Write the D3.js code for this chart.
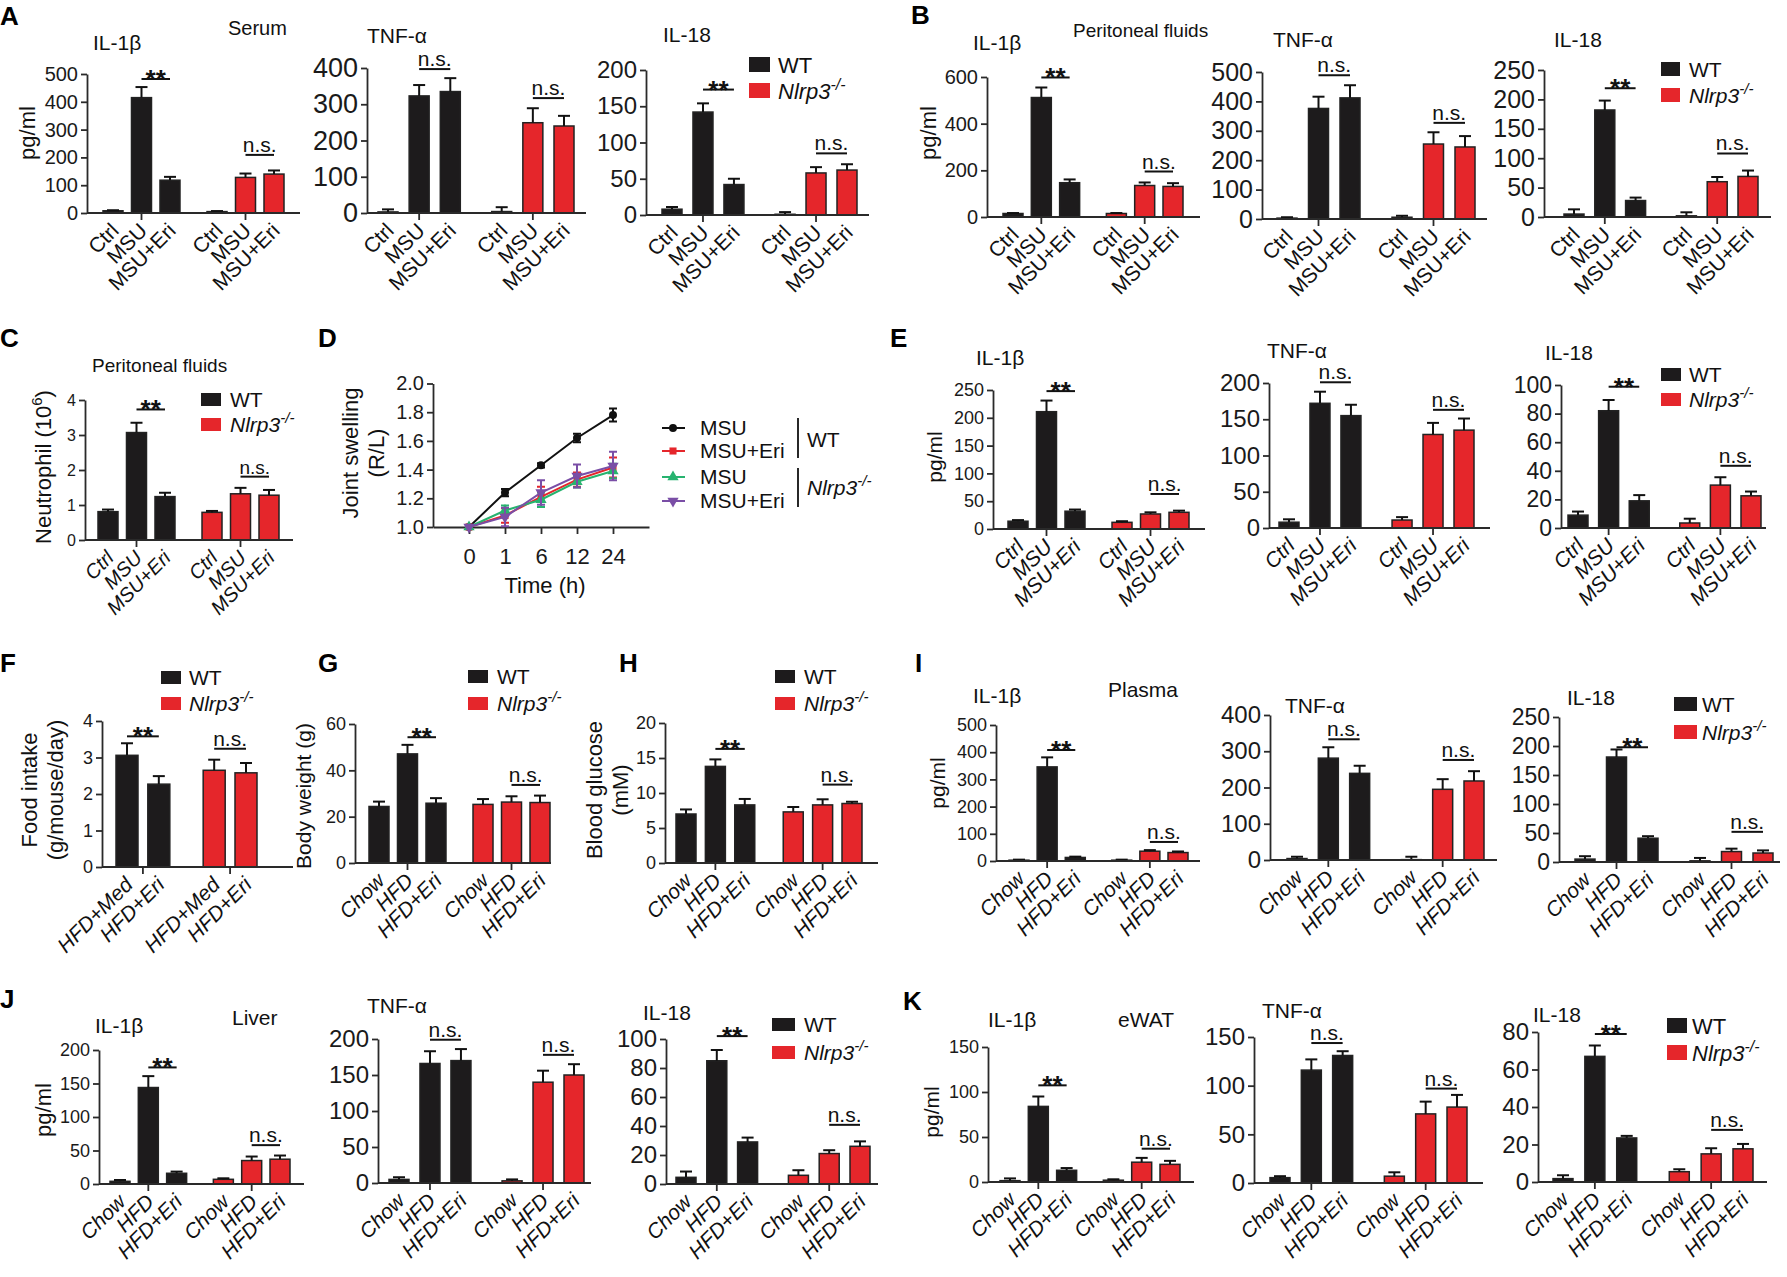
<!DOCTYPE html>
<html>
<head>
<meta charset="utf-8">
<script src="https://cdn.jsdelivr.net/npm/d3@7"></script>
<style>
  body { margin: 0; background: #fff; }
  svg { display: block; font-family: "Liberation Sans", Arial, Helvetica, sans-serif; }
</style>
</head>
<body>
<div id="chart"></div>
<script>
// categories
const msuGroups = ['Ctrl', 'MSU', 'MSU+Eri'];
const hfdGroups = ['Chow', 'HFD', 'HFD+Eri'];
const foodGroups = ['HFD+Med', 'HFD+Eri'];
const timePoints = ['0', '1', '6', '12', '24'];

// values: first half WT, second half Nlrp3-/-
const serumIL1b = [8, 415, 118, 5, 128, 140];
const serumIL1bErr = [2, 38, 12, 2, 14, 13];
const serumTNF = [3, 323, 335, 4, 249, 240];
const serumTNFErr = [7, 30, 37, 12, 40, 28];
const serumIL18 = [8, 142, 42, 1, 58, 62];
const serumIL18Err = [3, 12, 8, 3, 8, 8];

const peritIL1b = [15, 512, 147, 15, 135, 131];
const peritIL1bErr = [2, 43, 14, 2, 13, 14];
const peritTNF = [3, 376, 412, 6, 255, 245];
const peritTNFErr = [3, 40, 43, 5, 40, 37];
const peritIL18 = [5, 182, 28, 2, 60, 69];
const peritIL18Err = [8, 16, 5, 6, 8, 10];

const neutrophil = [0.81, 3.07, 1.24, 0.79, 1.32, 1.28];
const neutrophilErr = [0.06, 0.28, 0.11, 0.04, 0.17, 0.15];

const swellWtMsu = [1.0, 1.24, 1.43, 1.62, 1.78];
const swellWtMsuErr = [0, 0.025, 0.015, 0.03, 0.045];
const swellWtMsuEri = [1.0, 1.08, 1.21, 1.33, 1.415];
const swellWtMsuEriErr = [0, 0.05, 0.07, 0.05, 0.07];
const swellKoMsu = [1.0, 1.115, 1.19, 1.315, 1.39];
const swellKoMsuErr = [0, 0.035, 0.05, 0.04, 0.05];
const swellKoMsuEri = [1.0, 1.07, 1.24, 1.355, 1.425];
const swellKoMsuEriErr = [0, 0.065, 0.085, 0.08, 0.1];

const jointIL1b = [14, 211, 32, 12, 27, 30];
const jointIL1bErr = [2, 20, 3, 2, 3, 3];
const jointTNF = [8, 172, 155, 11, 129, 135];
const jointTNFErr = [4, 16, 15, 4, 16, 16];
const jointIL18 = [9, 82, 19, 3.5, 30, 22.5];
const jointIL18Err = [2.5, 7.5, 4, 3, 5.5, 3];

const foodIntake = [3.06, 2.27, 2.65, 2.58];
const foodIntakeErr = [0.33, 0.22, 0.29, 0.27];
const bodyWeight = [24.4, 47.1, 25.8, 25.3, 26.3, 26.1];
const bodyWeightErr = [2.1, 3.9, 2.2, 2.3, 2.5, 3];
const bloodGlucose = [7.0, 13.8, 8.3, 7.3, 8.3, 8.5];
const bloodGlucoseErr = [0.65, 1.0, 0.85, 0.7, 0.8, 0.25];

const plasmaIL1b = [3, 346, 13, 3, 36, 31];
const plasmaIL1bErr = [2, 35, 3, 2, 4, 4];
const plasmaTNF = [4, 281, 239, 1, 195, 218];
const plasmaTNFErr = [5, 30, 21, 8, 28, 27];
const plasmaIL18 = [5, 181, 41, 2, 18, 15.5];
const plasmaIL18Err = [5, 13, 3.5, 5, 5, 4.5];

const liverIL1b = [4, 144, 16, 7, 35, 37];
const liverIL1bErr = [2, 17, 2.5, 1.5, 6, 5.5];
const liverTNF = [5, 166, 170, 3, 140, 150];
const liverTNFErr = [3, 17, 16, 2, 16, 15];
const liverIL18 = [4.6, 85, 29, 6, 21, 26];
const liverIL18Err = [4, 7.4, 3, 3.5, 2.3, 3.4];

const ewatIL1b = [1.5, 84, 13, 2, 22, 19.6];
const ewatIL1bErr = [2.5, 11, 2.5, 1, 4.8, 3.9];
const ewatTNF = [5.5, 116, 131, 7, 71, 78];
const ewatTNFErr = [1.5, 11, 4.4, 4, 12.6, 12.5];
const ewatIL18 = [1.8, 67, 23.5, 5.5, 15, 17.7];
const ewatIL18Err = [1.8, 5.8, 1.1, 1.3, 3, 2.6];

const axisColor = '#2a2a2a';
const wtColor = '#1d1b1c';
const koColor = '#e5262b';

const svg = d3.select('#chart').append('svg')
  .attr('width', 1787)
  .attr('height', 1277);

function styleAxis(a, font) {
  a.attr('font-family', null).attr('font-size', font);
  a.select('.domain').attr('stroke', axisColor).attr('stroke-width', 1.8);
  a.selectAll('.tick line').attr('stroke', axisColor).attr('stroke-width', 1.8);
  a.selectAll('.tick text').attr('fill', '#1a1a1a');
}

// "Nlrp3-/-" with italic gene name and superscript
function nlrp3(t, size) {
  t.append('tspan').style('font-style', 'italic').text('Nlrp3');
  t.append('tspan').attr('dy', -size * 0.42).attr('font-size', size * 0.72)
    .style('font-style', 'italic').text('-/-');
}

function legend(g, l) {
  const size = l.size || 21;
  [wtColor, koColor].forEach((c, i) => {
    const top = i === 0 ? l.y1 : l.y2;
    g.append('rect').attr('x', l.x).attr('y', top).attr('width', l.w).attr('height', l.h).attr('fill', c);
    const t = g.append('text').attr('x', l.tx).attr('y', top + l.h + 1).attr('font-size', size).attr('fill', '#111');
    if (i === 0) t.text('WT'); else nlrp3(t, size);
  });
}

function barPanel(p) {
  const g = svg.append('g');
  const n = p.values.length, half = n / 2;
  const gs = p.gap || 1.65;
  const slot = i => (i < half ? i : i + gs - 1);
  const x = d3.scaleLinear().domain([0, slot(n - 1)]).range([p.c0, p.cLast]);
  const y = d3.scaleLinear().domain([0, p.max]).range([p.y0, p.yTop]);
  const bw = p.bw || 20;
  const rows = p.values.map((v, i) => ({ v, e: p.errs[i], cx: x(slot(i)), ko: i >= half, label: p.groups[i % half] }));

  // bars
  g.selectAll('.bar').data(rows).enter().append('rect')
    .attr('x', d => d.cx - bw / 2)
    .attr('y', d => y(d.v))
    .attr('width', bw)
    .attr('height', d => p.y0 - y(d.v))
    .attr('fill', d => d.ko ? koColor : wtColor)
    .attr('stroke', '#222')
    .attr('stroke-width', 1.5);

  // error bars (upper half)
  const eb = g.selectAll('.err').data(rows).enter().append('g').attr('stroke', '#111').attr('stroke-width', 2);
  eb.append('line').attr('x1', d => d.cx).attr('x2', d => d.cx).attr('y1', d => y(d.v)).attr('y2', d => y(d.v + d.e));
  eb.append('line').attr('x1', d => d.cx - 6).attr('x2', d => d.cx + 6).attr('y1', d => y(d.v + d.e)).attr('y2', d => y(d.v + d.e));

  // x axis line and group ticks
  g.append('line').attr('x1', p.left).attr('x2', p.xEnd).attr('y1', p.y0).attr('y2', p.y0)
    .attr('stroke', axisColor).attr('stroke-width', 1.8);
  const centers = [x((slot(0) + slot(half - 1)) / 2), x((slot(half) + slot(n - 1)) / 2)];
  g.selectAll('.gt').data(centers).enter().append('line')
    .attr('x1', d => d).attr('x2', d => d).attr('y1', p.y0).attr('y2', p.y0 + 7)
    .attr('stroke', axisColor).attr('stroke-width', 1.8);

  // y axis
  g.append('g')
    .attr('transform', `translate(${p.left},0)`)
    .call(d3.axisLeft(y)
      .tickValues(d3.range(0, p.max + p.step / 2, p.step))
      .tickFormat(d3.format('~g'))
      .tickSize(6).tickSizeOuter(0).tickPadding(3))
    .call(styleAxis, p.font);

  // rotated category labels
  g.selectAll('.xl').data(rows).enter().append('text')
    .attr('transform', d => `translate(${d.cx + 7},${p.y0 + 19}) rotate(-45)`)
    .attr('text-anchor', 'end')
    .attr('font-size', p.lf || 21)
    .style('font-style', p.italic ? 'italic' : null)
    .attr('fill', '#111')
    .text(d => d.label);

  // significance marks
  (p.sig || []).forEach(([i, j, level, label]) => {
    const x1 = rows[i].cx, x2 = rows[j].cx, yy = y(level);
    g.append('line').attr('x1', x1).attr('x2', x2).attr('y1', yy).attr('y2', yy).attr('stroke', '#111').attr('stroke-width', 2);
    const star = label === '**';
    g.append('text')
      .attr('x', (x1 + x2) / 2)
      .attr('y', star ? yy + 9 : yy - 3)
      .attr('text-anchor', 'middle')
      .attr('font-size', star ? 26 : (p.sf || 21))
      .attr('font-weight', star ? 'bold' : null)
      .attr('fill', '#111')
      .text(label);
  });

  (p.titles || []).forEach(([t, tx, ty, ts]) => {
    g.append('text').attr('x', tx).attr('y', ty).attr('font-size', ts || 21).attr('fill', '#111').text(t);
  });

  if (p.ylab) {
    p.ylab.lines.forEach(([t, lx]) => {
      g.append('text')
        .attr('transform', `translate(${lx},${p.ylab.y}) rotate(-90)`)
        .attr('text-anchor', 'middle')
        .attr('dy', '0.35em')
        .attr('font-size', p.ylab.size || 21)
        .attr('fill', '#111')
        .text(t);
    });
  }
  if (p.legend) legend(g, p.legend);
  return g;
}

const pgml = (lx, ly, size) => ({ lines: [['pg/ml', lx]], y: ly, size: size || 22 });

const panels = [
  // A: serum
  { values: serumIL1b, errs: serumIL1bErr, groups: msuGroups, left: 87, c0: 113, cLast: 274, xEnd: 300, y0: 213, yTop: 74, max: 500, step: 100, font: 20,
    sig: [[1, 2, 482, '**'], [4, 5, 209, 'n.s.']], titles: [['IL-1β', 93, 50], ['Serum', 228, 35, 20]], ylab: pgml(27, 133) },
  { values: serumTNF, errs: serumTNFErr, groups: msuGroups, left: 367, c0: 388, cLast: 564, xEnd: 586, y0: 213, yTop: 68, max: 400, step: 100, font: 27,
    sig: [[1, 2, 397, 'n.s.'], [4, 5, 317, 'n.s.']], titles: [['TNF-α', 367, 43]] },
  { values: serumIL18, errs: serumIL18Err, groups: msuGroups, left: 646, c0: 672, cLast: 847, xEnd: 869, y0: 215, yTop: 70, max: 200, step: 50, font: 24,
    sig: [[1, 2, 173, '**'], [4, 5, 85, 'n.s.']], titles: [['IL-18', 663, 42]],
    legend: { x: 749, y1: 57, y2: 83, w: 21, h: 15, tx: 778, size: 22 } },
  // B: peritoneal fluids
  { values: peritIL1b, errs: peritIL1bErr, groups: msuGroups, left: 987, c0: 1013, cLast: 1173, xEnd: 1200, y0: 217, yTop: 77, max: 600, step: 200, font: 20,
    sig: [[1, 2, 598, '**'], [4, 5, 195, 'n.s.']], titles: [['IL-1β', 973, 50], ['Peritoneal fluids', 1073, 37, 19]], ylab: pgml(928, 133) },
  { values: peritTNF, errs: peritTNFErr, groups: msuGroups, left: 1262, c0: 1287, cLast: 1465, xEnd: 1487, y0: 219, yTop: 72, max: 500, step: 100, font: 25,
    sig: [[1, 2, 489, 'n.s.'], [4, 5, 327, 'n.s.']], titles: [['TNF-α', 1273, 47]] },
  { values: peritIL18, errs: peritIL18Err, groups: msuGroups, left: 1544, c0: 1574, cLast: 1748, xEnd: 1771, y0: 217, yTop: 70, max: 250, step: 50, font: 25,
    sig: [[1, 2, 219, '**'], [4, 5, 108, 'n.s.']], titles: [['IL-18', 1554, 47]],
    legend: { x: 1661, y1: 62, y2: 88, w: 19, h: 14, tx: 1689, size: 21 } },
  // C: neutrophils
  { values: neutrophil, errs: neutrophilErr, groups: msuGroups, left: 85, c0: 108, cLast: 269, xEnd: 293, y0: 540, yTop: 400, max: 4, step: 1, font: 16,
    italic: true, lf: 20, sf: 19, sig: [[1, 2, 3.73, '**'], [4, 5, 1.81, 'n.s.']], titles: [['Peritoneal fluids', 92, 372, 19]],
    legend: { x: 201, y1: 393, y2: 418, w: 20, h: 13, tx: 230, size: 21 } },
  // E: joint
  { values: jointIL1b, errs: jointIL1bErr, groups: msuGroups, left: 993, c0: 1018, cLast: 1179, xEnd: 1205, y0: 529, yTop: 390, max: 250, step: 50, font: 18,
    italic: true, lf: 21, sig: [[1, 2, 248, '**'], [4, 5, 63, 'n.s.']], titles: [['IL-1β', 976, 365]], ylab: pgml(935, 457, 21) },
  { values: jointTNF, errs: jointTNFErr, groups: msuGroups, left: 1269, c0: 1289, cLast: 1464, xEnd: 1490, y0: 528, yTop: 383, max: 200, step: 50, font: 24,
    italic: true, lf: 21, sig: [[1, 2, 201, 'n.s.'], [4, 5, 163, 'n.s.']], titles: [['TNF-α', 1267, 358]] },
  { values: jointIL18, errs: jointIL18Err, groups: msuGroups, left: 1561, c0: 1578, cLast: 1751, xEnd: 1766, y0: 528, yTop: 385, max: 100, step: 20, font: 23,
    italic: true, lf: 21, sig: [[1, 2, 98.8, '**'], [4, 5, 43.5, 'n.s.']], titles: [['IL-18', 1545, 360]],
    legend: { x: 1661, y1: 368, y2: 393, w: 20, h: 13, tx: 1689, size: 21 } },
  // F, G, H
  { values: foodIntake, errs: foodIntakeErr, groups: foodGroups, left: 102, c0: 127, cLast: 246, xEnd: 293, y0: 867, yTop: 721, max: 4, step: 1, font: 18,
    italic: true, bw: 22, gap: 1.74, sig: [[0, 1, 3.58, '**'], [2, 3, 3.24, 'n.s.']],
    ylab: { lines: [['Food intake', 29], ['(g/mouse/day)', 55]], y: 790, size: 22 },
    legend: { x: 161, y1: 671, y2: 697, w: 20, h: 13, tx: 189, size: 21 } },
  { values: bodyWeight, errs: bodyWeightErr, groups: hfdGroups, left: 355, c0: 379, cLast: 540, xEnd: 551, y0: 863, yTop: 724, max: 60, step: 20, font: 18,
    italic: true, sig: [[1, 2, 54.3, '**'], [4, 5, 33.7, 'n.s.']],
    ylab: { lines: [['Body weight (g)', 304]], y: 796, size: 21 },
    legend: { x: 468, y1: 670, y2: 697, w: 20, h: 13, tx: 497, size: 21 } },
  { values: bloodGlucose, errs: bloodGlucoseErr, groups: hfdGroups, left: 665, c0: 686, cLast: 852, xEnd: 878, y0: 863, yTop: 723, max: 20, step: 5, font: 18,
    italic: true, sig: [[1, 2, 16.3, '**'], [4, 5, 11.2, 'n.s.']],
    ylab: { lines: [['Blood glucose', 594], ['(mM)', 620]], y: 790, size: 22 },
    legend: { x: 775, y1: 670, y2: 697, w: 20, h: 13, tx: 804, size: 21 } },
  // I: plasma
  { values: plasmaIL1b, errs: plasmaIL1bErr, groups: hfdGroups, left: 996, c0: 1019, cLast: 1178, xEnd: 1200, y0: 861, yTop: 725, max: 500, step: 100, font: 18,
    italic: true, sig: [[1, 2, 408, '**'], [4, 5, 70, 'n.s.']], titles: [['IL-1β', 973, 703], ['Plasma', 1108, 697]], ylab: pgml(938, 783, 21) },
  { values: plasmaTNF, errs: plasmaTNFErr, groups: hfdGroups, left: 1270, c0: 1297, cLast: 1474, xEnd: 1497, y0: 860, yTop: 715, max: 400, step: 100, font: 24,
    italic: true, sig: [[1, 2, 333, 'n.s.'], [4, 5, 276, 'n.s.']], titles: [['TNF-α', 1285, 713]] },
  { values: plasmaIL18, errs: plasmaIL18Err, groups: hfdGroups, left: 1559, c0: 1585, cLast: 1763, xEnd: 1780, y0: 862, yTop: 717, max: 250, step: 50, font: 23,
    italic: true, sig: [[1, 2, 198, '**'], [4, 5, 52, 'n.s.']], titles: [['IL-18', 1567, 705]],
    legend: { x: 1674, y1: 697, y2: 725, w: 23, h: 14, tx: 1702, size: 21 } },
  // J: liver
  { values: liverIL1b, errs: liverIL1bErr, groups: hfdGroups, left: 99, c0: 120, cLast: 280, xEnd: 304, y0: 1184, yTop: 1050, max: 200, step: 50, font: 18,
    italic: true, sig: [[1, 2, 174, '**'], [4, 5, 58, 'n.s.']], titles: [['IL-1β', 95, 1033], ['Liver', 232, 1025]], ylab: pgml(43, 1110) },
  { values: liverTNF, errs: liverTNFErr, groups: hfdGroups, left: 378, c0: 399, cLast: 574, xEnd: 591, y0: 1183, yTop: 1039, max: 200, step: 50, font: 24,
    italic: true, sig: [[1, 2, 199, 'n.s.'], [4, 5, 178, 'n.s.']], titles: [['TNF-α', 367, 1013]] },
  { values: liverIL18, errs: liverIL18Err, groups: hfdGroups, left: 666, c0: 686, cLast: 860, xEnd: 878, y0: 1184, yTop: 1039, max: 100, step: 20, font: 24,
    italic: true, sig: [[1, 2, 102, '**'], [4, 5, 40.8, 'n.s.']], titles: [['IL-18', 643, 1020]],
    legend: { x: 772, y1: 1018, y2: 1046, w: 23, h: 13, tx: 804, size: 21 } },
  // K: eWAT
  { values: ewatIL1b, errs: ewatIL1bErr, groups: hfdGroups, left: 988, c0: 1010, cLast: 1170, xEnd: 1194, y0: 1182, yTop: 1047, max: 150, step: 50, font: 18,
    italic: true, sig: [[1, 2, 107.4, '**'], [4, 5, 37, 'n.s.']], titles: [['IL-1β', 988, 1027], ['eWAT', 1118, 1027]], ylab: pgml(932, 1112, 21) },
  { values: ewatTNF, errs: ewatTNFErr, groups: hfdGroups, left: 1254, c0: 1280, cLast: 1457, xEnd: 1483, y0: 1183, yTop: 1037, max: 150, step: 50, font: 24,
    italic: true, sig: [[1, 2, 143.8, 'n.s.'], [4, 5, 97, 'n.s.']], titles: [['TNF-α', 1262, 1018]] },
  { values: ewatIL18, errs: ewatIL18Err, groups: hfdGroups, left: 1538, c0: 1563, cLast: 1743, xEnd: 1767, y0: 1182, yTop: 1032, max: 80, step: 20, font: 24,
    italic: true, sig: [[1, 2, 79, '**'], [4, 5, 27.8, 'n.s.']], titles: [['IL-18', 1533, 1022]],
    legend: { x: 1667, y1: 1018, y2: 1045, w: 20, h: 15, tx: 1692, size: 22 } }
];

panels.forEach(barPanel);

// C y label with superscript
const cLab = svg.append('text')
  .attr('transform', 'translate(43,467) rotate(-90)')
  .attr('text-anchor', 'middle')
  .attr('dy', '0.35em')
  .attr('font-size', 22)
  .attr('fill', '#111');
cLab.append('tspan').text('Neutrophil (10');
cLab.append('tspan').attr('dy', -9).attr('font-size', 15).text('6');
cLab.append('tspan').attr('dy', 9).text(')');

// D: joint swelling line chart
(function () {
  const g = svg.append('g');
  const x = d3.scalePoint().domain(timePoints).range([433, 649]).padding(1);
  const y = d3.scaleLinear().domain([1, 2]).range([527, 383.5]);
  const series = [
    { v: swellWtMsu, e: swellWtMsuErr, color: '#111', sym: d3.symbolCircle, size: 50, rot: 0, name: 'MSU' },
    { v: swellWtMsuEri, e: swellWtMsuEriErr, color: '#e5262b', sym: d3.symbolSquare, size: 50, rot: 0, name: 'MSU+Eri' },
    { v: swellKoMsu, e: swellKoMsuErr, color: '#27b36f', sym: d3.symbolTriangle, size: 55, rot: 0, name: 'MSU' },
    { v: swellKoMsuEri, e: swellKoMsuEriErr, color: '#7a4ea6', sym: d3.symbolTriangle, size: 55, rot: 180, name: 'MSU+Eri' }
  ];

  g.append('g').attr('transform', 'translate(0,527)')
    .call(d3.axisBottom(x).tickSize(7).tickSizeOuter(0).tickPadding(14))
    .call(styleAxis, 22);
  g.append('g').attr('transform', 'translate(433,0)')
    .call(d3.axisLeft(y).tickValues(d3.range(1, 2.01, 0.2)).tickFormat(d3.format('.1f')).tickSize(6).tickSizeOuter(0).tickPadding(3))
    .call(styleAxis, 20);

  const line = d3.line().x((d, i) => x(timePoints[i])).y(d => y(d));
  series.forEach(s => {
    const sg = g.append('g');
    sg.append('path').attr('d', line(s.v)).attr('fill', 'none').attr('stroke', s.color).attr('stroke-width', 2);
    s.v.forEach((v, i) => {
      if (s.e[i] <= 0) return;
      const cx = x(timePoints[i]);
      sg.append('path')
        .attr('d', `M${cx},${y(v - s.e[i])}V${y(v + s.e[i])}M${cx - 4},${y(v - s.e[i])}H${cx + 4}M${cx - 4},${y(v + s.e[i])}H${cx + 4}`)
        .attr('stroke', s.color).attr('stroke-width', 2).attr('fill', 'none');
    });
    sg.selectAll('.m').data(s.v).enter().append('path')
      .attr('d', d3.symbol(s.sym, s.size))
      .attr('transform', (d, i) => `translate(${x(timePoints[i])},${y(d)}) rotate(${s.rot})`)
      .attr('fill', s.color);
  });

  // legend
  const rowsY = [428, 451, 477, 501];
  series.forEach((s, i) => {
    g.append('line').attr('x1', 662).attr('x2', 685).attr('y1', rowsY[i]).attr('y2', rowsY[i]).attr('stroke', s.color).attr('stroke-width', 2);
    g.append('path').attr('d', d3.symbol(s.sym, s.size)).attr('transform', `translate(673,${rowsY[i]}) rotate(${s.rot})`).attr('fill', s.color);
    g.append('text').attr('x', 700).attr('y', rowsY[i]).attr('dy', '0.35em').attr('font-size', 21).attr('fill', '#111').text(s.name);
  });
  g.append('line').attr('x1', 798).attr('x2', 798).attr('y1', 418).attr('y2', 458).attr('stroke', '#111').attr('stroke-width', 1.8);
  g.append('line').attr('x1', 798).attr('x2', 798).attr('y1', 468).attr('y2', 507).attr('stroke', '#111').attr('stroke-width', 1.8);
  g.append('text').attr('x', 807).attr('y', 447).attr('font-size', 21).attr('fill', '#111').text('WT');
  nlrp3(g.append('text').attr('x', 807).attr('y', 495).attr('font-size', 21).attr('fill', '#111'), 21);

  g.append('text').attr('x', 545).attr('y', 593).attr('text-anchor', 'middle').attr('font-size', 22).attr('fill', '#111').text('Time (h)');
  [['Joint swelling', 350], ['(R/L)', 376]].forEach(([t, lx]) => {
    g.append('text').attr('transform', `translate(${lx},453) rotate(-90)`).attr('text-anchor', 'middle')
      .attr('dy', '0.35em').attr('font-size', 22).attr('fill', '#111').text(t);
  });
})();

// panel letters
const letters = [['A', 0, 25], ['B', 911, 24], ['C', 0, 347], ['D', 318, 347], ['E', 890, 347],
  ['F', 0, 672], ['G', 318, 672], ['H', 619, 672], ['I', 915, 672], ['J', 0, 1008], ['K', 903, 1010]];
svg.selectAll('.letter').data(letters).enter().append('text')
  .attr('x', d => d[1]).attr('y', d => d[2])
  .attr('font-size', 26).attr('font-weight', 'bold').attr('fill', '#000')
  .text(d => d[0]);
</script>
</body>
</html>
